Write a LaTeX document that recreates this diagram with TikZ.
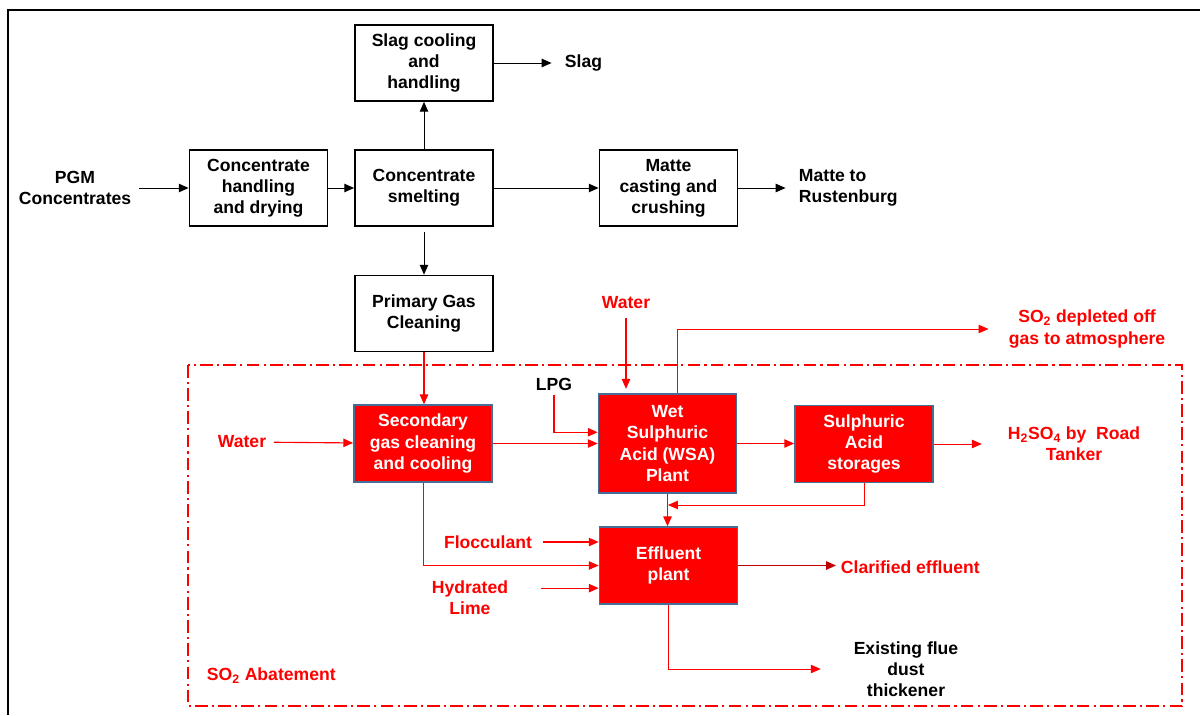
\documentclass[tikz,border=0pt]{standalone}
\usepackage{fontspec}
\setmainfont{Liberation Sans}
\usepackage{tikz}
\usetikzlibrary{arrows.meta}
\usepackage{xcolor}
\definecolor{bred}{RGB}{255,0,0}
\definecolor{dred}{RGB}{190,0,0}
\definecolor{bedge}{RGB}{70,110,150}

\begin{document}
\begin{tikzpicture}[x=0.025cm,y=-0.025cm,>={Triangle[length=7pt,width=6pt]},
    font=\bfseries\fontsize{12.5}{15}\selectfont]
\tikzset{
    b1/.style={%
        draw=black, line width=1.2pt,
        rectangle, align=center,
        minimum height=1.9cm,
        minimum width=3.45cm
        },
    r1/.style={%
        draw=bedge, line width=1.2pt, fill=bred, text=white,
        rectangle, align=center,
        minimum height=1.92cm,
        minimum width=3.45cm
        },
    t1/.style={align=center},
    t2/.style={align=center, text=bred},
    ka/.style={->, line width=0.7pt},
    ra/.style={->, draw=bred, line width=0.8pt},
}
\useasboundingbox (0,0) rectangle (1200,715);
\draw[line width=1.2pt] (1200,10) -- (8,10) -- (8,715);
%%%SMELTER
\node[b1] (slag)  at (424,63)    {Slag cooling\\and\\handling};
\node[b1] (conc)  at (258.5,188) {Concentrate\\handling\\and drying};
\node[b1] (smelt) at (424,188)   {Concentrate\\smelting};
\node[b1] (matte) at (668.5,188) {Matte\\casting and\\crushing};
\node[b1] (prim)  at (424,313.5) {Primary Gas\\Cleaning};
\node[t1] (pgm)   at (75,188)    {PGM\\Concentrates};
\node[anchor=west] (slagt) at (560,63) {Slag};
\node[t1, align=left, anchor=west] (mattet) at (794,188) {Matte to\\Rustenburg};
%%%ABATEMENT
\draw[bred, line width=1.1pt, dash pattern=on 9pt off 3pt on 1.5pt off 3pt]
    (188,365) rectangle (1182,706);
\node[r1] (sec) at (423,443.5) {Secondary\\gas cleaning\\and cooling};
\node[r1, minimum height=2.48cm] (wsa) at (667.5,443.5) {Wet\\Sulphuric\\Acid (WSA)\\Plant};
\node[r1] (sas) at (864,444)   {Sulphuric\\Acid\\storages};
\node[r1] (eff) at (668.5,565.5) {Effluent\\plant};
\node[t2] (water1) at (242,442) {Water};
\node[t1] (lpg)    at (554,384) {LPG};
\node[t2] (water2) at (626,303) {Water};
\node[t2] (so2)    at (1087,329) {SO\textsubscript{2} depleted off\\gas to atmosphere};
\node[t2] (acid)   at (1074,444) {H\textsubscript{2}SO\textsubscript{4} by\ \ Road\\Tanker};
\node[t2] (flocc)  at (488,542) {Flocculant};
\node[t2] (hyd)    at (470,598) {Hydrated\\Lime};
\node[t2, anchor=west] (clar) at (836,567) {Clarified effluent};
\node[t1] (dust)   at (906,669) {Existing flue\\dust\\thickener};
\node[text=bred, anchor=west] (abat) at (202,676) {SO\textsubscript{2} Abatement};
\coordinate (jn) at (668,505);
%%%FLOWS
\draw[ka, shorten <=2pt] (pgm) -- (conc);
\draw[ka] (conc) -- (smelt);
\draw[ka] (smelt) -- (slag);
\draw[ka] (smelt) -- (matte);
\draw[ka, shorten >=6pt] (slag) -- (slagt);
\draw[ka, shorten >=6pt] (matte) -- (mattet);
\draw[ka, shorten <=4pt] (smelt) -- (prim);
\draw[ra] (prim.south) -- (prim.south |- sec.north);
\draw[ra, shorten <=2pt] (water1) -- (sec);
\draw[ra, line width=0.6pt] (sec.east) -- (sec.east -| wsa.west);
\draw[ra] (lpg.south) |- ([yshift=8pt]wsa.west);
\draw[ra, shorten >=3pt, shorten <=3pt] (water2.south) -- (water2.south |- wsa.north);
\draw[ra, line width=0.6pt, shorten >=11pt] ([xshift=6.7pt]wsa.north) |- (so2.west);
\draw[ra] (wsa.east) -- (wsa.east -| sas.west);
\draw[ra, line width=0.6pt, shorten >=15pt] (sas) -- (acid);
\draw[ra, line width=0.6pt] (sas.south) |- (jn);
\draw[ra] (wsa.south) -- (wsa.south |- eff.north);
\draw[ra, shorten <=4pt] (flocc.east) -- (flocc.east -| eff.west);
\draw[ra, line width=0.6pt] (sec.south) |- (eff.west);
\draw[ra, shorten <=20pt] ([yshift=7pt]hyd.east) -- ([yshift=7pt]hyd.east -| eff.west);
\draw[->, draw=dred, line width=0.9pt] (eff.east) -- (eff.east -| clar.west);
\draw[ra, line width=0.6pt, shorten >=20pt] (eff.south) |- (dust.west);
\end{tikzpicture}
\end{document}
